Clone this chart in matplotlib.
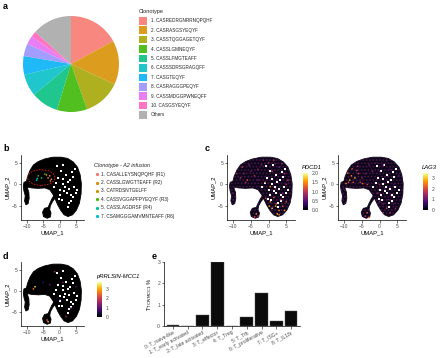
import numpy as np
import matplotlib
matplotlib.use("Agg")
import matplotlib.pyplot as plt
from matplotlib.patches import Polygon, Ellipse, Rectangle
from matplotlib.cm import ScalarMappable
from matplotlib.colors import Normalize

plt.rcParams['font.family'] = ['Liberation Sans', 'DejaVu Sans']
plt.rcParams['hatch.linewidth'] = 0.8

W, H = 440, 358

# ---- panel a: clonotype pie
clonotypes = ['1. CASREDRGNRRNQPQHF', '2. CASRASGSYEQYF', '3. CASSTQGGAGETQYF',
              '4. CASSLGMNEQYF', '5. CASSLFMGTEAFF', '6. CASSSDRSGRAGQFF',
              '7. CASGTEQYF', '8. CASRAGGGPEQYF', '9. CASSMDGGPWNEQFF',
              '10. CASGSYEQYF', 'Others']
clone_share = [17.0, 14.8, 12.5, 10.1, 9.2, 7.4, 6.2, 4.2, 2.8, 1.9, 13.3]
clone_colors = ['#F8766D', '#D89000', '#A3A500', '#39B600', '#00BF7D', '#00BFC4',
                '#00B0F6', '#9590FF', '#E76BF3', '#FF62BC', '#A6A6A6']

# ---- panel b: A2 infusion clonotypes
b_labels = ['1. CASALLEYSNQPQHF (R1)', '2. CASSLGWGTTEAFF (R2)', '3. CATRDSNTGELFF',
            '4. CASSVGGAPFPYEQYF (R3)', '5. CASSLAGDRSF (R4)', '7. CSAMGGGAMVMNTEAFF (R6)']
b_colors = ['#F8766D', '#E58700', '#C99800', '#53B400', '#00C08B', '#00BCD8']
b_pts_x = [-3.0, -2.5, -3.5, -2.8, -4.0, -4.5, -6.5, -5.5, -7.0, -6.8]
b_pts_y = [2.0, 1.2, 1.5, 0.8, 2.2, 2.4, 2.0, 1.5, 1.0, 1.4]
b_pts_c = [0, 0, 1, 1, 2, 3, 3, 4, 5, 5]

# ---- UMAP outline (shared by b, c, d)
body_x = [-10.3, -9.8, -9.0, -8.0, -6.5, -4.5, -2.0, 0.5, 2.5, 4.2, 5.5, 6.3, 6.7, 6.6,
          6.1, 5.2, 4.0, 2.6, 1.4, 0.4, -0.5, -1.2, -2.0, -3.0, -4.5, -6.5, -8.5, -9.8]
body_y = [0.2, 1.8, 3.3, 4.5, 5.3, 5.9, 6.3, 6.3, 6.0, 5.2, 4.0, 2.3, 0.2, -2.2,
          -4.3, -5.9, -7.0, -7.4, -7.0, -6.0, -4.8, -3.6, -2.3, -1.2, -0.8, -0.9, -0.8, -0.6]
tail_x = [-1.6, -2.4, -3.0, -3.5, -4.6, -5.2, -4.9, -3.8, -2.8, -2.6, -3.0, -2.8, -2.1, -1.2]
tail_y = [-2.4, -3.4, -4.4, -5.3, -5.5, -6.4, -7.4, -7.8, -7.5, -6.6, -5.8, -4.9, -3.9, -3.0]
island_x = [-10.9, -10.2, -9.7, -9.8, -9.4, -9.3, -9.6, -10.3, -10.7, -10.5, -10.9, -11.1]
island_y = [0.5, 0.7, 0.2, -0.9, -1.8, -3.2, -4.4, -4.7, -3.8, -2.6, -1.5, -0.4]
hole_x = [1.5, 2.2, 3.5, 4.0, 2.5, 4.5, 0.1, 0.3, -0.2, 1.0, -0.5, 0.5, 3.0, 5.0, 2.8,
          1.0, 1.8, 3.2, 4.2, 2.0, 3.8, 0.8, -1.0, -1.8, -0.8, 5.5, 4.8, 2.6, 1.2, 3.4]
hole_y = [-1.5, -2.0, -2.5, -3.0, 0.5, -0.5, -1.2, -2.4, -3.4, 1.2, 1.5, 3.0, -1.0, -2.0,
          -4.2, 0.2, -0.6, 1.0, 1.8, 2.2, 2.8, -3.5, 0.3, -0.6, 4.2, -1.2, 3.5, -5.2, 4.6, -3.8]

# ---- panel c: PDCD1 / LAG3 expression
pd_x = [-8, -7, -6, -5, -4, -3, -6.5, -2, 0, 2, -3, 1, 3, 4.5, -1, 0.5, 2, 5, 4, 1.5,
        2, 3, 1, 4, 3.5, 0.5, 2.5, 5, -3.5, -4, -3, -10.3, -10, -9, -7.5, -5.5, -1.5,
        1.5, 3.8, 5.5, 4.5, 2.2, 0.2, -0.8, 3.0]
pd_y = [1.5, 2.5, 1, 3, 2, 1, 0.5, 4.5, 5, 4.8, 3.5, 3, 4, 2.5, 0.5, -0.5, -1, 0, -2, -3,
        -5, -6, -5.5, -5, -3.5, -4, -6.8, -4, -6.8, -7.5, -7.3, -2, -3.5, 2.5, 4.0, 4.5,
        5.6, 5.6, 4.8, 1.0, -6.0, -4.5, -5.0, -3.2, -7.0]
pd_v = [1.0, 0.8, 1.2, 0.6, 1.0, 0.7, 0.9, 0.7, 0.9, 0.6, 0.8, 1.1, 0.7, 0.9, 1.2, 1.5,
        0.8, 1.0, 0.7, 1.3, 1.6, 1.4, 1.8, 1.2, 1.0, 1.4, 1.7, 1.1, 1.5, 1.2, 0.9, 0.6, 0.5,
        0.9, 1.1, 0.8, 0.7, 1.0, 0.9, 1.2, 1.5, 1.3, 1.6, 1.1, 1.4]
lag_x = [-8.5, -8, -7, -7.5, -6, -6.5, -5, -4, -8.8, -5.5, -3, -1, 1, 0, 3, -2, 0, 1.5,
         4, 3, -0.5, 2, 3, 1, 4, 2.5, -3.5, -4, -3, -10.2, -10, -9.5, -9.0, -7.8, -6.2,
         -4.8, -3.5, 2.0, 4.5, 5.5, 1.0, 0.0]
lag_y = [1.0, 2, 1.5, 0.5, 2.5, 3.2, 1.5, 2.5, 0.5, 0.5, 4.5, 5, 4.5, 3, 3.5, 3, 0, -1,
         0, -2.5, -2, -5.5, -6.5, -4.5, -4.5, -3.5, -6.5, -7.3, -7.6, -1, -3, 0.2, 2.6,
         3.6, 4.2, 0.2, 0.0, 5.5, -5.5, 2.0, -6.5, -4.0]
lag_v = [2.8, 2.5, 3.0, 2.2, 2.0, 1.8, 1.5, 1.2, 2.0, 1.8, 1.0, 0.8, 1.2, 0.9, 0.7, 1.4,
         1.5, 1.0, 0.8, 0.9, 1.6, 1.8, 1.5, 1.2, 1.0, 1.1, 2.2, 1.8, 2.5, 0.8, 0.6, 2.6,
         2.4, 2.1, 1.7, 2.3, 1.9, 0.9, 1.4, 1.0, 1.6, 1.3]

# ---- panel d: pRRLSIN-MCC1
mcc_x = [-8, -7.5, -3.5, -3.8, -3, -1.5, 0, 1, 3.5, -5, 2, 5]
mcc_y = [0.5, 1.0, -7.2, -6.8, 1.5, 4.5, -2, 2, -4, 2, -6, 1]
mcc_v = [2.5, 3.2, 3.0, 2.2, 1.0, 1.5, 0.8, 1.2, 1.0, 0.7, 1.5, 0.9]

# ---- panel e: bars
clusters = ['0: T_naive-like', '1: T_early activated', '2: T_late activated', '3: T_effector',
            '4: T_Treg', '5: T_Tfh', '6: T_proliferative', '7: T_ISG+', '8: T_IL18r']
pct = [0.06, 0.0, 0.52, 3.0, 0.0, 0.42, 1.55, 0.24, 0.72]

fig = plt.figure(figsize=(W / 100, H / 100), dpi=100)


def px_axes(l, t, r, b):
    return fig.add_axes([l / W, 1 - b / H, (r - l) / W, (b - t) / H])


def ftxt(x, y, s, **kw):
    fig.text(x / W, 1 - y / H, s, **kw)


def style_axes(ax):
    for sp in ['top', 'right']:
        ax.spines[sp].set_visible(False)
    for sp in ['left', 'bottom']:
        ax.spines[sp].set_linewidth(0.5)
    ax.tick_params(width=0.5, length=1.8, labelsize=3.6, pad=1, colors='#333333',
                   labelcolor='#4d4d4d')


def umap(ax, fill='black', speckle=None, ylabel=True):
    for xs, ys in [(body_x, body_y), (tail_x, tail_y), (island_x, island_y)]:
        ax.add_patch(Polygon(np.column_stack([xs, ys]), closed=True, fc=fill, ec=fill,
                             lw=0.6))
        if speckle:
            ax.add_patch(Polygon(np.column_stack([xs, ys]), closed=True, fill=False,
                                 ec=speckle, lw=0, hatch='.....'))
    ax.scatter(hole_x, hole_y, s=4, c='white', marker='s', lw=0, zorder=2)
    ax.set_xlim(-11.8, 7.5)
    ax.set_ylim(-8.2, 6.8)
    ax.set_xticks([-10, -5, 0, 5])
    ax.set_yticks([-5, 0, 5])
    style_axes(ax)
    ax.set_xlabel('UMAP_1', fontsize=4.2, labelpad=1)
    if ylabel:
        ax.set_ylabel('UMAP_2', fontsize=4.2, labelpad=1)


def cbar(l, t, r, b, vmax, ticks, fmt, title):
    cax = px_axes(l, t, r, b)
    cb = fig.colorbar(ScalarMappable(Normalize(0, vmax), 'inferno'), cax=cax)
    cb.outline.set_visible(False)
    cb.set_ticks(ticks)
    cb.set_ticklabels([fmt.format(v) for v in ticks])
    cax.tick_params(labelsize=3.6, length=1.5, width=0.4, color='white', pad=1,
                    labelcolor='#4d4d4d')
    ftxt(l - 1, t - 3, title, fontsize=4.2, style='italic', va='bottom')


# a
ftxt(3, 9, 'a', fontsize=6.5, fontweight='bold')
axa = px_axes(23, 16, 119, 112)
axa.pie(clone_share, colors=clone_colors, startangle=90, counterclock=False,
        wedgeprops=dict(lw=0, alpha=0.88))
axa.set_xlim(-1, 1)
axa.set_ylim(-1, 1)
ftxt(139, 12, 'Clonotype', fontsize=4, va='center', color='#222222')
for i, (lab, col) in enumerate(zip(clonotypes, clone_colors)):
    yc = 20.8 + i * 9.42
    fig.patches.append(Rectangle((139.3 / W, 1 - (yc + 3.8) / H), 7.8 / W, 7.6 / H,
                                 transform=fig.transFigure, fc=col, ec='none', alpha=0.88))
    ftxt(150.5, yc, lab, fontsize=3.3, va='center', color='#222222')

# b
ftxt(3, 151, 'b', fontsize=6.5, fontweight='bold')
axb = px_axes(21, 155, 84, 220)
umap(axb)
axb.scatter(b_pts_x, b_pts_y, s=1.5, c=[b_colors[i] for i in b_pts_c], lw=0, zorder=3)
axb.add_patch(Ellipse((-5.6, 1.6), 8.4, 3.6, fill=False, ec='#e8201c', ls=(0, (2, 1.5)),
                      lw=0.6, zorder=4))
ftxt(94, 166, 'Clonotype - A2 infusion', fontsize=4, style='italic', va='center',
     color='#222222')
for i, (lab, col) in enumerate(zip(b_labels, b_colors)):
    yc = 174.3 + i * 8.35
    fig.lines.append(plt.Line2D([97 / W], [1 - yc / H], marker='o', ms=1.3, color=col,
                                lw=0, transform=fig.transFigure))
    ftxt(101, yc, lab, fontsize=3.4, va='center', color='#222222')

# c
ftxt(205, 151, 'c', fontsize=6.5, fontweight='bold')
axc1 = px_axes(227, 155, 295, 220)
umap(axc1, fill='#0d0618', speckle='#4a1550')
axc1.scatter(pd_x, pd_y, s=1.4, c=pd_v, cmap='inferno', vmin=0, vmax=2.0, lw=0, zorder=3)
cbar(303, 173, 308, 210, 2.0, [0, 0.5, 1.0, 1.5, 2.0], '{:.1f}', 'PDCD1')

axc2 = px_axes(338, 155, 406, 220)
umap(axc2, fill='#0d0618', speckle='#4a1550')
axc2.scatter(lag_x, lag_y, s=1.4, c=lag_v, cmap='inferno', vmin=0, vmax=3.5, lw=0, zorder=3)
cbar(423, 173, 428, 210, 3.5, [0, 1, 2, 3], '{:.0f}', 'LAG3')

# d
ftxt(3, 259, 'd', fontsize=6.5, fontweight='bold')
axd = px_axes(21, 262, 84, 326)
umap(axd)
axd.scatter(mcc_x, mcc_y, s=1.6, c=mcc_v, cmap='inferno', vmin=0, vmax=3.7, lw=0, zorder=3)
cbar(97, 282, 102, 317, 3.7, [0, 1, 2, 3], '{:.0f}', 'pRRLSIN-MCC1')

# e
ftxt(152, 259, 'e', fontsize=6.5, fontweight='bold')
axe = px_axes(164, 262, 300, 326)
xs = np.arange(len(clusters))
axe.bar(xs, pct, width=0.86, color='#0b0b0b', ec='#555555', lw=0.3)
axe.set_xlim(-0.6, len(clusters) - 0.4)
axe.set_ylim(0, 3.0)
axe.set_yticks([0, 1, 2, 3])
axe.set_xticks(xs)
axe.set_xticklabels(clusters, rotation=28, ha='right', rotation_mode='anchor')
style_axes(axe)
axe.set_ylabel(r'T$_{\mathrm{TCR/MCC1}}$ %', fontsize=4.2, labelpad=2)

fig.savefig('out.png', dpi=100)
